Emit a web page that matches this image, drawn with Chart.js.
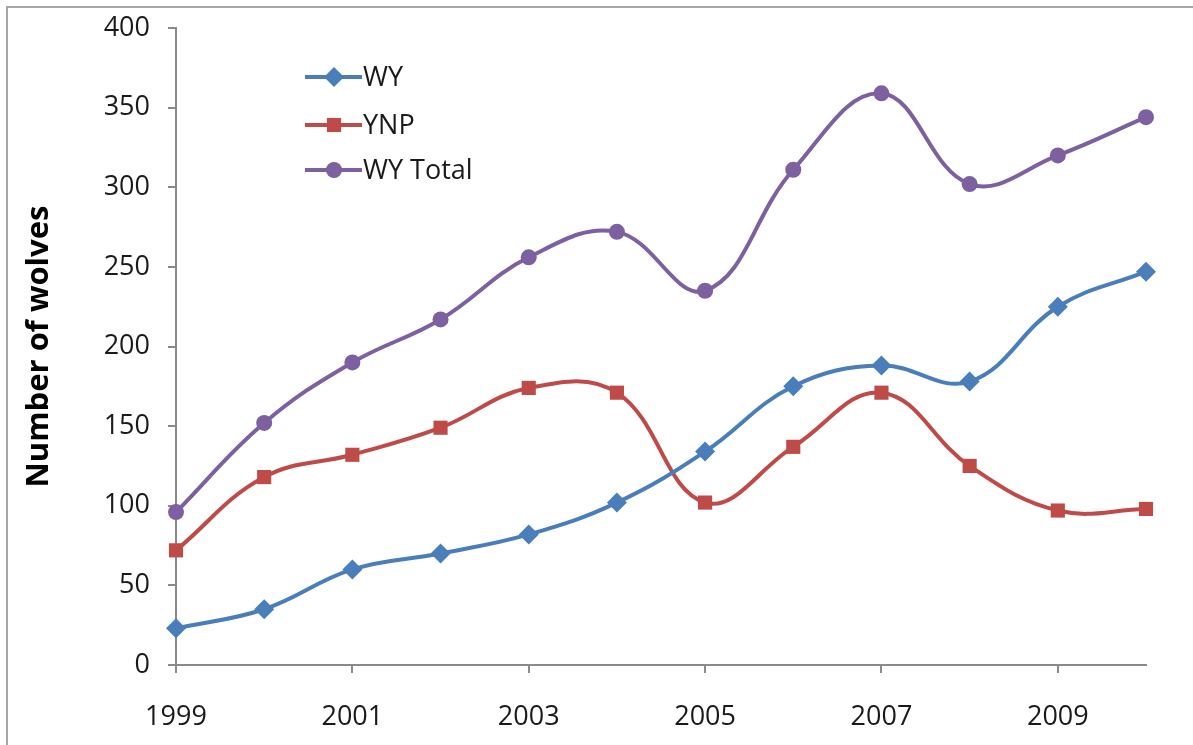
<!DOCTYPE html>
<html>
<head>
<meta charset="utf-8">
<script src="https://cdn.jsdelivr.net/npm/chart.js@4.4.0/dist/chart.umd.min.js"></script>
<style>
  html, body { margin:0; padding:0; background:#fff; overflow:hidden; }
  #wrap { position:relative; width:1193px; height:745px; }
  #frame { position:absolute; left:6px; top:6px; width:1300px; height:900px; border:2px solid #a6a6a6; box-sizing:border-box; pointer-events:none; }
  canvas { position:absolute; left:0; top:0; }
</style>
</head>
<body>
<div id="wrap">
  <canvas id="wolfChart" width="1193" height="745"></canvas>
  <div id="frame"></div>
</div>
<script>
// wolf counts
const years = ['1999','2000','2001','2002','2003','2004','2005','2006','2007','2008','2009','2010'];
const wy      = [23, 35, 60, 70, 82, 102, 134, 175, 188, 178, 225, 247];
const ynp     = [72, 118, 132, 149, 174, 171, 102, 137, 171, 125, 97, 98];
const wyTotal = [96, 152, 190, 217, 256, 272, 235, 311, 359, 302, 320, 344];
const yTicks  = [0, 50, 100, 150, 200, 250, 300, 350, 400];

const FONT = 'Open Sans';
const axisGray = '#8a8a8a';

const series = [
  {label:'WY', data:wy, color:'#4a7ebb', style:'rectRot', r:10},
  {label:'YNP', data:ynp, color:'#be4b48', style:'rect', r:10},
  {label:'WY Total', data:wyTotal, color:'#7d60a0', style:'circle', r:8}
];

// legend sits inside the plot, top-left
const insideLegend = {
  id:'insideLegend',
  afterDraw(chart){
    const c = chart.ctx;
    const rowsY = [77, 125, 170];
    series.forEach((s,i)=>{
      const y = rowsY[i];
      c.save();
      c.strokeStyle = s.color; c.lineWidth = 4;
      c.beginPath(); c.moveTo(305,y); c.lineTo(362,y); c.stroke();
      c.fillStyle = s.color;
      Chart.helpers.drawPoint(c, {pointStyle:s.style, radius:s.r, borderWidth:0}, 334, y);
      c.fillStyle = '#1a1a1a';
      c.font = '27px "' + FONT + '"';
      c.textBaseline = 'middle';
      c.fillText(s.label, 363, y+1);
      c.restore();
    });
  }
};

new Chart(document.getElementById('wolfChart').getContext('2d'), {
  type:'line',
  data:{
    labels:years,
    datasets:series.map(s=>({
      label:s.label, data:s.data,
      borderColor:s.color, backgroundColor:s.color,
      borderWidth:4, tension:0.4,
      pointStyle:s.style, pointRadius:s.r, pointBorderWidth:0,
      pointBackgroundColor:s.color, clip:false
    }))
  },
  options:{
    responsive:false, animation:false,
    layout:{padding:{top:28, right:47, left:0, bottom:0}},
    plugins:{legend:{display:false}, tooltip:{enabled:false}},
    scales:{
      x:{
        offset:false,
        afterFit(scale){ scale.height = 80; scale.paddingLeft = 0; scale.paddingRight = 0; },
        border:{display:true, color:axisGray, width:2},
        grid:{drawOnChartArea:false, tickLength:8, lineWidth:2,
              color:ctx=> (ctx.index % 2 === 0 ? axisGray : 'rgba(0,0,0,0)')},
        ticks:{autoSkip:false, maxRotation:0, padding:28, color:'#1a1a1a',
               font:{family:FONT, size:27},
               callback:(v,i)=> (i % 2 === 0 ? years[i] : '')}
      },
      y:{
        min:0, max:400,
        afterFit(scale){ scale.width = 176; scale.paddingTop = 0; scale.paddingBottom = 0; },
        afterBuildTicks(scale){ scale.ticks = yTicks.map(v=>({value:v})); },
        border:{display:true, color:axisGray, width:2},
        grid:{drawOnChartArea:false, tickLength:8, lineWidth:2, color:axisGray},
        ticks:{padding:18, color:'#1a1a1a', font:{family:FONT, size:27}},
        title:{display:true, text:'Number of wolves', color:'#000',
               font:{family:FONT, size:31, weight:'bold'}, padding:{top:21, bottom:0}}
      }
    }
  },
  plugins:[insideLegend]
});
</script>
</body>
</html>
